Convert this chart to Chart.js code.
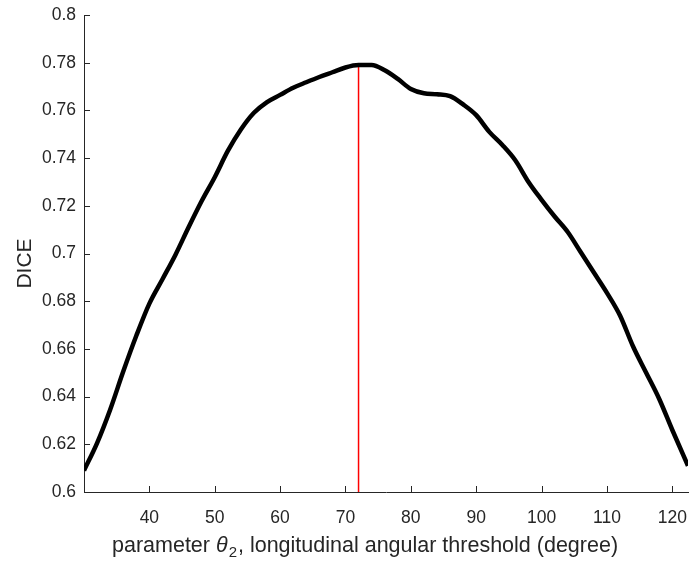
<!DOCTYPE html>
<html>
<head>
<meta charset="utf-8">
<script src="https://cdn.jsdelivr.net/npm/chart.js@4/dist/chart.umd.min.js"></script>
<style>
  html, body { margin: 0; padding: 0; background: #fff; }
  #wrap { width: 692px; height: 562px; }
</style>
</head>
<body>
<div id="wrap"><canvas id="c" width="692" height="562"></canvas></div>
<script>
// Data
const thetaValues = [30, 32, 34, 36, 38, 40, 42, 44, 46, 48, 50, 52, 54, 56, 58, 60, 62, 64, 66, 68, 70, 72, 74, 76, 78, 80, 82, 84, 86, 88, 90, 92, 94, 96, 98, 100, 102, 104, 106, 108, 110, 112, 114, 116, 118, 120, 122.4];
const diceValues = [0.609, 0.6205, 0.6345, 0.6505, 0.6655, 0.679, 0.6892, 0.6995, 0.711, 0.722, 0.732, 0.743, 0.752, 0.759, 0.7635, 0.7665, 0.7695, 0.7718, 0.774, 0.776, 0.778, 0.779, 0.779, 0.7768, 0.7732, 0.769, 0.7672, 0.7668, 0.766, 0.7625, 0.758, 0.751, 0.7455, 0.739, 0.730, 0.7225, 0.7155, 0.709, 0.7005, 0.692, 0.6835, 0.674, 0.661, 0.650, 0.639, 0.626, 0.611];
const bestTheta = [72, 72];
const bestLine = [0.6, 0.779];
const xTickValues = [40, 50, 60, 70, 80, 90, 100, 110, 120];
const yTickValues = [0.6, 0.62, 0.64, 0.66, 0.68, 0.7, 0.72, 0.74, 0.76, 0.78, 0.8];
const xRange = [30, 122.4];
const yRange = [0.6, 0.8];
// x-axis title pieces: plain text, italic symbol, subscript, plain text
const xTitleParts = ['parameter ', '\u03B8', '2', ', longitudinal angular threshold (degree)'];
const yTitle = 'DICE';

const FONT = '"Liberation Sans", Arial, Helvetica, sans-serif';
const AXIS_COLOR = '#262626';

const innerTicks = {
  id: 'innerTicks',
  afterDraw(chart) {
    const ctx = chart.ctx;
    const xs = chart.scales.x, ys = chart.scales.y;
    const ca = chart.chartArea;
    ctx.save();
    ctx.strokeStyle = AXIS_COLOR;
    ctx.lineWidth = 1;
    ctx.beginPath();
    xs.ticks.forEach(t => {
      const px = Math.round(xs.getPixelForValue(t.value)) + 0.5;
      ctx.moveTo(px, ca.bottom);
      ctx.lineTo(px, ca.bottom - 6);
    });
    ys.ticks.forEach(t => {
      const py = Math.round(ys.getPixelForValue(t.value)) + 0.5;
      ctx.moveTo(ca.left, py);
      ctx.lineTo(ca.left + 6, py);
    });
    ctx.stroke();
    ctx.restore();
  }
};

// Axis titles drawn as canvas text (italic theta with subscript, as in the reference)
const axisTitles = {
  id: 'axisTitles',
  afterDraw(chart) {
    const ctx = chart.ctx;
    const ca = chart.chartArea;
    ctx.save();
    ctx.fillStyle = AXIS_COLOR;
    ctx.textBaseline = 'alphabetic';
    ctx.textAlign = 'left';
    const mainFont = '21.5px ' + FONT;
    const italFont = 'italic 21.5px ' + FONT;
    const subFont = '15px ' + FONT;
    let x = ca.left + 28;
    const base = ca.bottom + 60;
    ctx.font = mainFont; ctx.fillText(xTitleParts[0], x, base); x += ctx.measureText(xTitleParts[0]).width;
    ctx.font = italFont; ctx.fillText(xTitleParts[1], x, base); x += ctx.measureText(xTitleParts[1]).width + 1;
    ctx.font = subFont; ctx.fillText(xTitleParts[2], x, base + 5); x += ctx.measureText(xTitleParts[2]).width + 1;
    ctx.font = mainFont; ctx.fillText(xTitleParts[3], x, base);
    // y title
    ctx.translate(25, (ca.top + ca.bottom) / 2 + 10);
    ctx.rotate(-Math.PI / 2);
    ctx.textAlign = 'center';
    ctx.textBaseline = 'middle';
    ctx.font = '21px ' + FONT;
    ctx.fillText(yTitle, 0, 0);
    ctx.restore();
  }
};

new Chart(document.getElementById('c'), {
  type: 'line',
  data: {
    datasets: [
      {
        data: thetaValues.map((v, i) => ({ x: v, y: diceValues[i] })),
        borderColor: '#000000',
        borderWidth: 4.5,
        pointRadius: 0,
        cubicInterpolationMode: 'monotone',
        fill: false
      },
      {
        data: bestTheta.map((v, i) => ({ x: v, y: bestLine[i] })),
        borderColor: '#ff0000',
        borderWidth: 1.5,
        pointRadius: 0,
        fill: false
      }
    ]
  },
  options: {
    responsive: false,
    animation: false,
    events: [],
    layout: { padding: { left: 0, right: 4, top: 15, bottom: 0 } },
    plugins: { legend: { display: false }, tooltip: { enabled: false } },
    scales: {
      x: {
        type: 'linear',
        min: xRange[0],
        max: xRange[1],
        afterBuildTicks: axis => { axis.ticks = xTickValues.map(v => ({ value: v })); },
        afterFit: scale => { scale.height = 70; scale.paddingLeft = 0; scale.paddingRight = 0; },
        border: { display: true, color: AXIS_COLOR, width: 1 },
        grid: { display: false, drawTicks: false },
        ticks: {
          color: AXIS_COLOR,
          font: { family: FONT, size: 17.5 },
          padding: 16,
          maxRotation: 0,
          callback: v => String(v)
        },
        title: { display: false }
      },
      y: {
        type: 'linear',
        min: yRange[0],
        max: yRange[1],
        afterBuildTicks: axis => { axis.ticks = yTickValues.map(v => ({ value: v })); },
        afterFit: scale => { scale.width = 84; scale.paddingTop = 0; scale.paddingBottom = 0; },
        border: { display: true, color: AXIS_COLOR, width: 1 },
        grid: { display: false, drawTicks: false },
        ticks: {
          color: AXIS_COLOR,
          font: { family: FONT, size: 17.5 },
          padding: 8,
          callback: v => String(Number(v.toFixed(2)))
        },
        title: { display: false }
      }
    }
  },
  plugins: [innerTicks, axisTitles]
});
</script>
</body>
</html>
